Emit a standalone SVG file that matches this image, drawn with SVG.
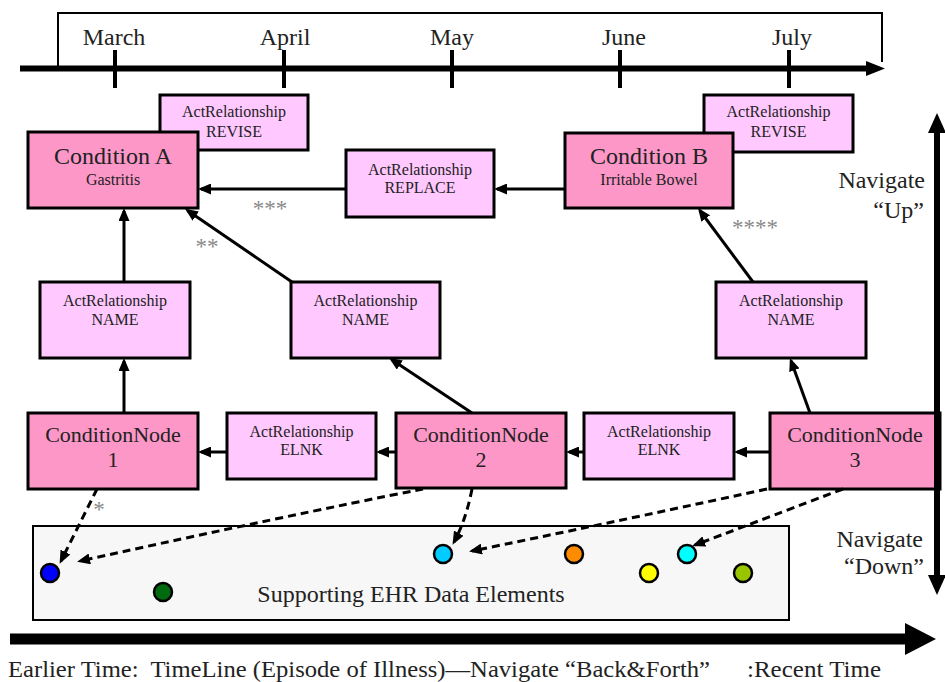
<svg xmlns="http://www.w3.org/2000/svg" width="945" height="682" viewBox="0 0 945 682">
<defs>
<style>
text{font-family:"Liberation Serif","Times New Roman",serif;fill:#222}
.cond{fill:#fd97c8;stroke:#000;stroke-width:3}
.act{fill:#ffc8ff;stroke:#000;stroke-width:3}
.big{font-size:24px;text-anchor:middle}
.mid{font-size:22px;text-anchor:middle}
.sm{font-size:16px;text-anchor:middle}
.nav{font-size:24px;text-anchor:end}
.ast{font-size:23px;fill:#888;text-anchor:middle}
.conn{stroke:#000;stroke-width:3;fill:none;marker-end:url(#ah)}
.dash{stroke:#000;stroke-width:3;fill:none;stroke-dasharray:8 5;marker-end:url(#ah)}
.dot{stroke:#000;stroke-width:2.5}
.pre{white-space:pre}
</style>
<marker id="ah" markerUnits="userSpaceOnUse" viewBox="0 0 13 11" refX="10" refY="5.5" markerWidth="13" markerHeight="11" orient="auto">
<path d="M0,0 L13,5.5 L0,11 z" fill="#000"/>
</marker>
</defs>
<rect width="945" height="682" fill="#fff"/>

<g id="timeline">
<path d="M58,66 V13 H882 V62" fill="none" stroke="#000" stroke-width="2"/>
<line x1="20" y1="68.5" x2="870" y2="68.5" stroke="#000" stroke-width="6"/>
<polygon points="866,61 885,68.5 866,76" fill="#000"/>
<g stroke="#000" stroke-width="4">
<line x1="115" y1="50" x2="115" y2="88"/>
<line x1="284" y1="50" x2="284" y2="88"/>
<line x1="452" y1="50" x2="452" y2="88"/>
<line x1="620" y1="50" x2="620" y2="88"/>
<line x1="789" y1="50" x2="789" y2="88"/>
</g>
<text class="big" x="114" y="45">March</text>
<text class="big" x="285" y="45">April</text>
<text class="big" x="452" y="45">May</text>
<text class="big" x="624" y="45">June</text>
<text class="big" x="792" y="45">July</text>
</g>

<g id="revA"><rect class="act" x="160" y="95" width="148" height="55"/>
<text class="sm" x="234" y="117">ActRelationship</text><text class="sm" x="234" y="137">REVISE</text></g>
<g id="condA"><rect class="cond" x="28" y="132" width="170" height="76"/>
<text class="big" x="113" y="164">Condition A</text><text class="sm" x="113" y="185">Gastritis</text></g>
<g id="replace"><rect class="act" x="346" y="150" width="148" height="67"/>
<text class="sm" x="420" y="175">ActRelationship</text><text class="sm" x="420" y="193">REPLACE</text></g>
<g id="revB"><rect class="act" x="704" y="95" width="149" height="57"/>
<text class="sm" x="778.5" y="117">ActRelationship</text><text class="sm" x="778.5" y="137">REVISE</text></g>
<g id="condB"><rect class="cond" x="565" y="133" width="168" height="75"/>
<text class="big" x="649" y="164">Condition B</text><text class="sm" x="649" y="185">Irritable Bowel</text></g>
<g id="name1"><rect class="act" x="40" y="282" width="150" height="76"/>
<text class="sm" x="115" y="306">ActRelationship</text><text class="sm" x="115" y="325">NAME</text></g>
<g id="name2"><rect class="act" x="291" y="282" width="149" height="76"/>
<text class="sm" x="365.5" y="306">ActRelationship</text><text class="sm" x="365.5" y="325">NAME</text></g>
<g id="name3"><rect class="act" x="716" y="282" width="150" height="76"/>
<text class="sm" x="791" y="306">ActRelationship</text><text class="sm" x="791" y="325">NAME</text></g>
<g id="cn1"><rect class="cond" x="28" y="413" width="170" height="76"/>
<text class="mid" x="113" y="442">ConditionNode</text><text class="mid" x="113" y="467">1</text></g>
<g id="elnk1"><rect class="act" x="227" y="413" width="149" height="66"/>
<text class="sm" x="301.5" y="437">ActRelationship</text><text class="sm" x="301.5" y="455">ELNK</text></g>
<g id="cn2"><rect class="cond" x="396" y="413" width="170" height="75"/>
<text class="mid" x="481" y="442">ConditionNode</text><text class="mid" x="481" y="467">2</text></g>
<g id="elnk2"><rect class="act" x="584" y="413" width="150" height="66"/>
<text class="sm" x="659" y="437">ActRelationship</text><text class="sm" x="659" y="455">ELNK</text></g>
<g id="cn3"><rect class="cond" x="770" y="413" width="170" height="76"/>
<text class="mid" x="855" y="442">ConditionNode</text><text class="mid" x="855" y="467">3</text></g>

<g id="data">
<rect x="33" y="526" width="756" height="94" fill="#f7f7f7" stroke="#000" stroke-width="2"/>
<circle class="dot" cx="50" cy="573" r="9" fill="#0000ff"/>
<circle class="dot" cx="163" cy="592" r="9" fill="#006a10"/>
<circle class="dot" cx="443" cy="554" r="9" fill="#00ccff"/>
<circle class="dot" cx="574" cy="554" r="9" fill="#ff8c00"/>
<circle class="dot" cx="649" cy="573" r="9" fill="#ffff00"/>
<circle class="dot" cx="687" cy="554" r="9" fill="#00ffff"/>
<circle class="dot" cx="743" cy="573" r="9" fill="#99c400"/>
<text class="big" x="411" y="602">Supporting EHR Data Elements</text>
</g>

<g id="connectors">
<line class="conn" x1="124" y1="282" x2="124" y2="211"/>
<line class="conn" x1="124" y1="413" x2="124" y2="361"/>
<line class="conn" x1="292" y1="282" x2="187.5" y2="210.5"/>
<line class="conn" x1="472" y1="413" x2="391.5" y2="359.5"/>
<line class="conn" x1="810" y1="413" x2="791" y2="360.8"/>
<line class="conn" x1="753" y1="282" x2="699.8" y2="210.5"/>
<line class="conn" x1="346" y1="189" x2="201" y2="189"/>
<line class="conn" x1="565" y1="189" x2="497" y2="189"/>
<line class="conn" x1="227" y1="452" x2="201" y2="452"/>
<line class="conn" x1="396" y1="452" x2="379" y2="452"/>
<line class="conn" x1="584" y1="452" x2="569" y2="452"/>
<line class="conn" x1="770" y1="452" x2="737" y2="452"/>
<path class="dash" d="M97,489 L61,561"/>
<path class="dash" d="M423,489 Q290,515 80,561"/>
<path class="dash" d="M472,489 Q466,520 454,542"/>
<path class="dash" d="M767,489 Q600,525 472,551"/>
<path class="dash" d="M843,489 Q740,528 695,545"/>
<text class="ast" x="99" y="517">*</text>
<text class="ast" x="207" y="254">**</text>
<text class="ast" x="270" y="216">***</text>
<text class="ast" x="755" y="235">****</text>
</g>

<g id="navigate">
<line x1="937" y1="130" x2="937" y2="578" stroke="#000" stroke-width="6"/>
<polygon points="928,133 937,113 946,133" fill="#000"/>
<polygon points="928,575 937,595 946,575" fill="#000"/>
<text class="nav" x="925" y="188">Navigate</text>
<text class="nav" x="924" y="218">“Up”</text>
<text class="nav" x="923" y="547">Navigate</text>
<text class="nav" x="924" y="574">“Down”</text>
</g>

<g id="timeaxis">
<line x1="10" y1="639" x2="908" y2="639" stroke="#000" stroke-width="11"/>
<polygon points="905,623 936,639 905,655" fill="#000"/>
<text class="pre" x="8" y="677" font-size="23" textLength="702" lengthAdjust="spacingAndGlyphs">Earlier Time:  TimeLine (Episode of Illness)—Navigate “Back&amp;Forth”</text>
<text x="747" y="677" font-size="23" textLength="134" lengthAdjust="spacingAndGlyphs">:Recent Time</text>
</g>
</svg>
